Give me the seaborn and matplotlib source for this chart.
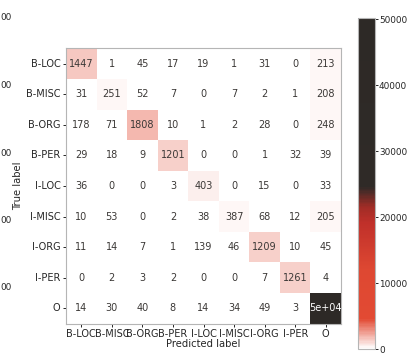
import numpy as np
import matplotlib
matplotlib.use('Agg')
import matplotlib.pyplot as plt
from matplotlib.colors import LinearSegmentedColormap
import seaborn as sns

# Tag classes and confusion counts (rows = true, cols = predicted)
labels = ['B-LOC', 'B-MISC', 'B-ORG', 'B-PER', 'I-LOC', 'I-MISC', 'I-ORG', 'I-PER', 'O']
row_bloc = [1447, 1, 45, 17, 19, 1, 31, 0, 213]
row_bmisc = [31, 251, 52, 7, 0, 7, 2, 1, 208]
row_borg = [178, 71, 1808, 10, 1, 2, 28, 0, 248]
row_bper = [29, 18, 9, 1201, 0, 0, 1, 32, 39]
row_iloc = [36, 0, 0, 3, 403, 0, 15, 0, 33]
row_imisc = [10, 53, 0, 2, 38, 387, 68, 12, 205]
row_iorg = [11, 14, 7, 1, 139, 46, 1209, 10, 45]
row_iper = [0, 2, 3, 2, 0, 0, 7, 1261, 4]
row_o = [14, 30, 40, 8, 14, 34, 49, 3, 50200]

cm = np.array([row_bloc, row_bmisc, row_borg, row_bper, row_iloc,
               row_imisc, row_iorg, row_iper, row_o])

# sklearn-like cell text: shortest of '.2g' and 'd'
annot = np.empty(cm.shape, dtype=object)
for i in range(cm.shape[0]):
    for j in range(cm.shape[1]):
        t_g = format(cm[i, j], '.2g')
        t_d = format(cm[i, j], 'd')
        annot[i, j] = t_d if len(t_d) < len(t_g) else t_g

# white -> red -> near black
cmap = LinearSegmentedColormap.from_list('wrk', [
    (0.00, '#ffffff'),
    (0.09, '#e24a33'),
    (0.24, '#de4832'),
    (0.38, '#c0302a'),
    (0.43, '#a02c26'),
    (0.49, '#2f2a27'),
    (1.00, '#2d2926'),
])

fig = plt.figure(figsize=(4.07, 3.54), dpi=100)
ax = fig.add_axes([0.162, 0.082, 0.676, 0.785])
cax = fig.add_axes([0.880, 0.014, 0.041, 0.935])

sns.heatmap(cm, annot=annot, fmt='', cmap=cmap, vmin=0, vmax=cm.max(),
            square=True, ax=ax, cbar_ax=cax, xticklabels=labels,
            yticklabels=labels, annot_kws={'fontsize': 7})

# text colours like sklearn: dark on light cells, white on dark
thresh = cm.max() / 2
for t, v in zip(ax.texts, cm.flatten()):
    t.set_color('white' if v > thresh else '#3b3836')

for s in ax.spines.values():
    s.set_visible(True)
    s.set_color('#b5b5b5')
    s.set_linewidth(0.8)
cbar = ax.collections[0].colorbar
cbar.outline.set_edgecolor('#b5b5b5')
cbar.outline.set_linewidth(0.8)

ax.tick_params(axis='both', labelsize=7, length=2.5, width=0.6, pad=1.5,
               labelcolor='#262626')
ax.set_xticklabels(labels, rotation=0)
ax.set_yticklabels(labels, rotation=0)
ax.set_xlabel('Predicted label', fontsize=7.2, labelpad=0, color='#262626')
ax.set_ylabel('True label', fontsize=7.2, labelpad=2, color='#262626')
cax.tick_params(labelsize=6.4, length=2, width=0.6, pad=1, labelcolor='#262626')

# tick labels of a neighbouring colorbar at the left edge
for y_px in [17, 86, 154, 220, 288]:
    fig.text(0.0, 1 - y_px / 354, '00', fontsize=6.4, va='center',
             ha='left', color='#262626')

plt.savefig('out.png', dpi=100)
